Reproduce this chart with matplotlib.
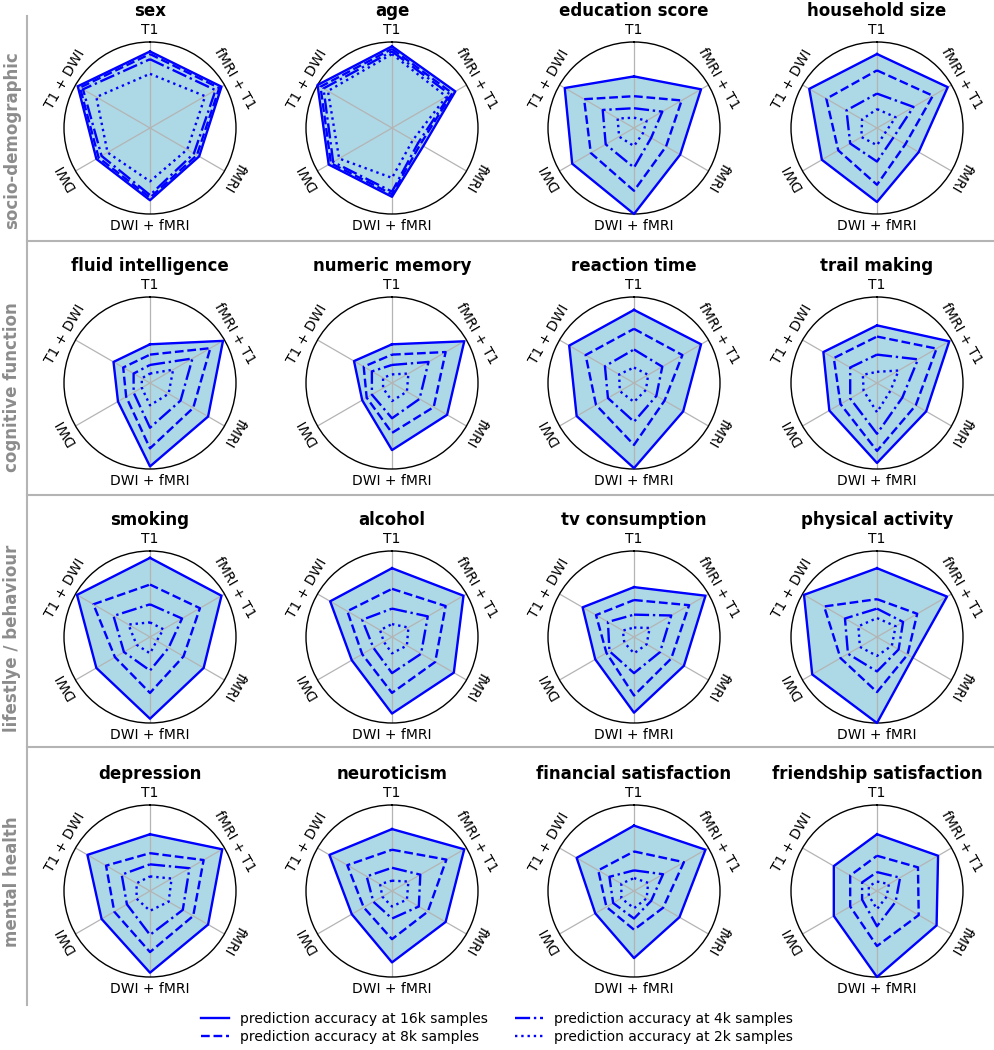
import numpy as np
import matplotlib
matplotlib.use("Agg")
import matplotlib.pyplot as plt
from matplotlib.lines import Line2D

# axes of every radar, clockwise from the top
modalities = ["T1", "fMRI + T1", "fMRI", "DWI + fMRI", "DWI", "T1 + DWI"]
targets = ["sex", "age", "education score", "household size",
           "fluid intelligence", "numeric memory", "reaction time", "trail making",
           "smoking", "alcohol", "tv consumption", "physical activity",
           "depression", "neuroticism", "financial satisfaction", "friendship satisfaction"]
domains = ["socio-demographic", "cognitive function", "lifestlye / behaviour", "mental health"]

# relative prediction accuracy per target (rows) and modality (cols)
acc_16k = [
    [0.89, 0.96, 0.66, 0.84, 0.72, 0.97],
    [0.95, 0.85, 0.42, 0.80, 0.85, 1.00],
    [0.60, 0.90, 0.62, 1.00, 0.83, 0.93],
    [0.86, 0.95, 0.56, 0.86, 0.74, 0.91],
    [0.45, 0.98, 0.78, 0.97, 0.43, 0.49],
    [0.45, 0.97, 0.74, 0.78, 0.40, 0.51],
    [0.85, 0.90, 0.66, 0.99, 0.77, 0.87],
    [0.67, 0.97, 0.66, 0.93, 0.64, 0.72],
    [0.92, 0.96, 0.72, 0.95, 0.72, 0.98],
    [0.80, 0.96, 0.83, 0.89, 0.54, 0.83],
    [0.58, 0.96, 0.67, 0.88, 0.52, 0.69],
    [0.80, 0.94, 0.48, 1.00, 0.87, 0.98],
    [0.66, 0.97, 0.78, 0.95, 0.65, 0.84],
    [0.72, 0.97, 0.72, 0.83, 0.54, 0.84],
    [0.76, 0.96, 0.61, 0.78, 0.52, 0.77],
    [0.66, 0.82, 0.80, 1.00, 0.58, 0.58],
]
acc_8k = [
    [0.86, 0.93, 0.63, 0.81, 0.69, 0.94],
    [0.92, 0.81, 0.38, 0.77, 0.82, 0.96],
    [0.37, 0.64, 0.43, 0.73, 0.58, 0.67],
    [0.67, 0.75, 0.38, 0.66, 0.52, 0.68],
    [0.33, 0.81, 0.58, 0.76, 0.32, 0.36],
    [0.33, 0.72, 0.56, 0.58, 0.34, 0.38],
    [0.63, 0.65, 0.41, 0.72, 0.51, 0.65],
    [0.54, 0.80, 0.52, 0.79, 0.49, 0.58],
    [0.61, 0.67, 0.45, 0.65, 0.47, 0.76],
    [0.56, 0.72, 0.58, 0.65, 0.40, 0.60],
    [0.43, 0.74, 0.50, 0.68, 0.37, 0.51],
    [0.44, 0.54, 0.41, 0.64, 0.49, 0.71],
    [0.44, 0.72, 0.58, 0.71, 0.48, 0.59],
    [0.48, 0.73, 0.48, 0.56, 0.38, 0.60],
    [0.46, 0.67, 0.39, 0.45, 0.37, 0.48],
    [0.41, 0.55, 0.56, 0.64, 0.36, 0.36],
]
acc_4k = [
    [0.80, 0.88, 0.59, 0.78, 0.65, 0.90],
    [0.89, 0.78, 0.35, 0.74, 0.79, 0.92],
    [0.23, 0.38, 0.23, 0.46, 0.38, 0.42],
    [0.40, 0.49, 0.22, 0.39, 0.36, 0.41],
    [0.21, 0.57, 0.41, 0.52, 0.22, 0.22],
    [0.21, 0.49, 0.37, 0.41, 0.27, 0.27],
    [0.39, 0.38, 0.30, 0.45, 0.35, 0.39],
    [0.33, 0.55, 0.34, 0.59, 0.36, 0.36],
    [0.38, 0.43, 0.25, 0.39, 0.35, 0.49],
    [0.33, 0.48, 0.39, 0.42, 0.25, 0.40],
    [0.26, 0.50, 0.35, 0.42, 0.33, 0.35],
    [0.33, 0.35, 0.29, 0.40, 0.39, 0.43],
    [0.31, 0.53, 0.44, 0.51, 0.31, 0.38],
    [0.27, 0.38, 0.36, 0.32, 0.25, 0.34],
    [0.24, 0.39, 0.23, 0.32, 0.28, 0.33],
    [0.22, 0.31, 0.25, 0.41, 0.20, 0.20],
]
acc_2k = [
    [0.63, 0.74, 0.50, 0.62, 0.57, 0.72],
    [0.86, 0.73, 0.28, 0.58, 0.71, 0.86],
    [0.12, 0.17, 0.12, 0.21, 0.20, 0.22],
    [0.22, 0.25, 0.11, 0.20, 0.21, 0.20],
    [0.11, 0.31, 0.25, 0.26, 0.11, 0.11],
    [0.10, 0.22, 0.20, 0.21, 0.12, 0.12],
    [0.18, 0.19, 0.16, 0.22, 0.19, 0.20],
    [0.13, 0.29, 0.18, 0.34, 0.18, 0.19],
    [0.17, 0.18, 0.09, 0.19, 0.18, 0.29],
    [0.15, 0.22, 0.20, 0.19, 0.11, 0.16],
    [0.11, 0.21, 0.17, 0.19, 0.13, 0.15],
    [0.22, 0.25, 0.20, 0.22, 0.23, 0.25],
    [0.17, 0.29, 0.25, 0.23, 0.18, 0.18],
    [0.12, 0.22, 0.20, 0.18, 0.13, 0.16],
    [0.15, 0.19, 0.17, 0.20, 0.17, 0.17],
    [0.11, 0.16, 0.13, 0.21, 0.11, 0.11],
]

series = [(acc_16k, "-", "prediction accuracy at 16k samples"),
          (acc_8k, "--", "prediction accuracy at 8k samples"),
          (acc_4k, "-.", "prediction accuracy at 4k samples"),
          (acc_2k, ":", "prediction accuracy at 2k samples")]

W, H = 994, 1050
fig = plt.figure(figsize=(W / 100, H / 100), dpi=100)

col_x = [150, 392, 634, 877]      # panel centres in px
row_y = [128, 383, 637, 891]
rad = 86
n = len(modalities)
theta = np.arange(n) * 2 * np.pi / n
th_closed = np.append(theta, theta[0])
rotations = [0, -60, -120, 0, 120, 60]

for i, name in enumerate(targets):
    r, c = divmod(i, 4)
    ax = fig.add_axes([(col_x[c] - rad) / W, 1 - (row_y[r] + rad) / H, 2 * rad / W, 2 * rad / H],
                      projection="polar")
    ax.set_theta_offset(np.pi / 2)
    ax.set_theta_direction(-1)
    ax.set_ylim(0, 1)
    ax.set_yticks([])
    ax.set_xticks(theta)
    ax.set_xticklabels([""] * n)
    ax.xaxis.grid(True, color="#b4b4b4", lw=0.9)
    ax.spines["polar"].set_linewidth(1.0)

    v = acc_16k[i] + acc_16k[i][:1]
    ax.fill(th_closed, v, color="lightblue", zorder=1)
    for data, ls, lab in series:
        vals = data[i] + data[i][:1]
        ax.plot(th_closed, vals, color="blue", ls=ls, lw=1.7, zorder=3, clip_on=False)

    for t, lab, rot in zip(theta, modalities, rotations):
        ax.text(t, 1.14, lab, rotation=rot, rotation_mode="anchor",
                ha="center", va="center", fontsize=10)
    ax.text(0.5, 1.18, name, transform=ax.transAxes, ha="center", va="center",
            fontsize=12, fontweight="bold")

# domain labels and separators
label_y = [140, 387, 638, 882]
for d, y in zip(domains, label_y):
    fig.text(12 / W, 1 - y / H, d, rotation=90, ha="center", va="center",
             fontsize=12, fontweight="bold", color="#8c8c8c")

sep_col = "#b4b4b4"
fig.add_artist(Line2D([27 / W, 27 / W], [1 - 16 / H, 1 - 1005 / H], color=sep_col, lw=1.5,
                      transform=fig.transFigure))
for y in [241, 495, 747]:
    fig.add_artist(Line2D([27 / W, 1.0], [1 - y / H, 1 - y / H], color=sep_col, lw=1.5,
                          transform=fig.transFigure))

handles = [Line2D([], [], color="blue", ls=ls, lw=1.7) for _, ls, _ in series]
labels = [lab for _, _, lab in series]
fig.legend(handles, labels, ncol=2, loc="lower center", bbox_to_anchor=(0.5, -0.006),
           frameon=False, fontsize=10, labelspacing=0.3, columnspacing=2.0)

fig.savefig("out.png", dpi=100)
